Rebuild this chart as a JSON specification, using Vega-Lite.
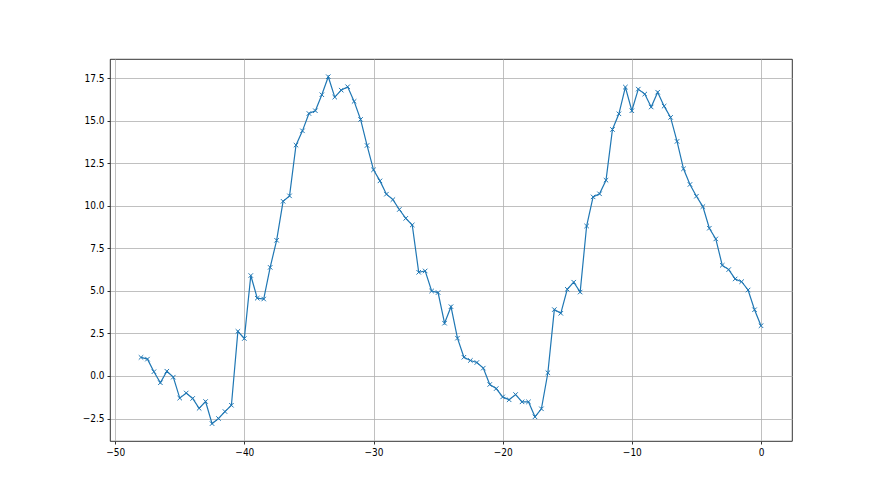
{
  "$schema": "https://vega.github.io/schema/vega-lite/v6.json",
  "autosize": {"type": "none"},
  "padding": {"left": 110, "top": 59, "right": 88, "bottom": 54},
  "width": 682,
  "height": 382,
  "background": "white",
  "config": {
    "view": {"stroke": "black", "strokeWidth": 0.8},
    "axis": {
      "labelFont": "'DejaVu Sans Condensed', 'DejaVu Sans', sans-serif",
      "labelFontSize": 10,
      "labelColor": "black",
      "tickColor": "black",
      "tickSize": 3,
      "tickWidth": 0.8,
      "labelPadding": 3,
      "domain": false,
      "grid": true,
      "gridColor": "#b0b0b0",
      "gridWidth": 0.8,
      "title": null
    }
  },
  "data": {
    "values": [
      {"x": -48, "y": 1.09}, {"x": -47.5, "y": 0.99}, {"x": -47, "y": 0.25}, {"x": -46.5, "y": -0.4},
      {"x": -46, "y": 0.28}, {"x": -45.5, "y": -0.07}, {"x": -45, "y": -1.3}, {"x": -44.5, "y": -1.0},
      {"x": -44, "y": -1.32}, {"x": -43.5, "y": -1.9}, {"x": -43, "y": -1.5}, {"x": -42.5, "y": -2.8},
      {"x": -42, "y": -2.5}, {"x": -41.5, "y": -2.09}, {"x": -41, "y": -1.72}, {"x": -40.5, "y": 2.62},
      {"x": -40, "y": 2.2}, {"x": -39.5, "y": 5.9}, {"x": -39, "y": 4.57}, {"x": -38.5, "y": 4.52},
      {"x": -38, "y": 6.38}, {"x": -37.5, "y": 7.97}, {"x": -37, "y": 10.26}, {"x": -36.5, "y": 10.58},
      {"x": -36, "y": 13.56}, {"x": -35.5, "y": 14.4}, {"x": -35, "y": 15.42}, {"x": -34.5, "y": 15.58},
      {"x": -34, "y": 16.52}, {"x": -33.5, "y": 17.58}, {"x": -33, "y": 16.38}, {"x": -32.5, "y": 16.79},
      {"x": -32, "y": 16.99}, {"x": -31.5, "y": 16.13}, {"x": -31, "y": 15.07}, {"x": -30.5, "y": 13.54},
      {"x": -30, "y": 12.11}, {"x": -29.5, "y": 11.46}, {"x": -29, "y": 10.68}, {"x": -28.5, "y": 10.36},
      {"x": -28, "y": 9.78}, {"x": -27.5, "y": 9.26}, {"x": -27, "y": 8.87}, {"x": -26.5, "y": 6.09},
      {"x": -26, "y": 6.17}, {"x": -25.5, "y": 4.99}, {"x": -25, "y": 4.9}, {"x": -24.5, "y": 3.1},
      {"x": -24, "y": 4.07}, {"x": -23.5, "y": 2.22}, {"x": -23, "y": 1.1}, {"x": -22.5, "y": 0.91},
      {"x": -22, "y": 0.79}, {"x": -21.5, "y": 0.46}, {"x": -21, "y": -0.5}, {"x": -20.5, "y": -0.74},
      {"x": -20, "y": -1.23}, {"x": -19.5, "y": -1.4}, {"x": -19, "y": -1.09}, {"x": -18.5, "y": -1.52},
      {"x": -18, "y": -1.52}, {"x": -17.5, "y": -2.4}, {"x": -17, "y": -1.93}, {"x": -16.5, "y": 0.19},
      {"x": -16, "y": 3.9}, {"x": -15.5, "y": 3.68}, {"x": -15, "y": 5.09}, {"x": -14.5, "y": 5.51},
      {"x": -14, "y": 4.93}, {"x": -13.5, "y": 8.81}, {"x": -13, "y": 10.52}, {"x": -12.5, "y": 10.7},
      {"x": -12, "y": 11.5}, {"x": -11.5, "y": 14.48}, {"x": -11, "y": 15.4}, {"x": -10.5, "y": 16.97},
      {"x": -10, "y": 15.58}, {"x": -9.5, "y": 16.85}, {"x": -9, "y": 16.56}, {"x": -8.5, "y": 15.8},
      {"x": -8, "y": 16.67}, {"x": -7.5, "y": 15.85}, {"x": -7, "y": 15.19}, {"x": -6.5, "y": 13.78},
      {"x": -6, "y": 12.17}, {"x": -5.5, "y": 11.25}, {"x": -5, "y": 10.56}, {"x": -4.5, "y": 9.95},
      {"x": -4, "y": 8.68}, {"x": -3.5, "y": 8.05}, {"x": -3, "y": 6.5}, {"x": -2.5, "y": 6.25},
      {"x": -2, "y": 5.7}, {"x": -1.5, "y": 5.54}, {"x": -1, "y": 5.05}, {"x": -0.5, "y": 3.89},
      {"x": 0, "y": 2.95}
    ]
  },
  "encoding": {
    "x": {
      "field": "x", "type": "quantitative",
      "scale": {"domain": [-50.4, 2.4], "nice": false, "zero": false},
      "axis": {"values": [-50, -40, -30, -20, -10, 0], "format": "d", "labelExpr": "replace(datum.label, '-', '\u2212')"}
    },
    "y": {
      "field": "y", "type": "quantitative",
      "scale": {"domain": [-3.82, 18.62], "nice": false, "zero": false},
      "axis": {"values": [-2.5, 0, 2.5, 5, 7.5, 10, 12.5, 15, 17.5], "format": ".1f", "labelExpr": "replace(datum.label, '-', '\u2212')"}
    }
  },
  "layer": [
    {"mark": {"type": "line", "color": "#1f77b4", "strokeWidth": 1.2}},
    {"mark": {"type": "point", "shape": "M-1,-1L1,1M-1,1L1,-1", "filled": false, "color": "#1f77b4", "strokeWidth": 1, "size": 20, "opacity": 1}}
  ]
}
